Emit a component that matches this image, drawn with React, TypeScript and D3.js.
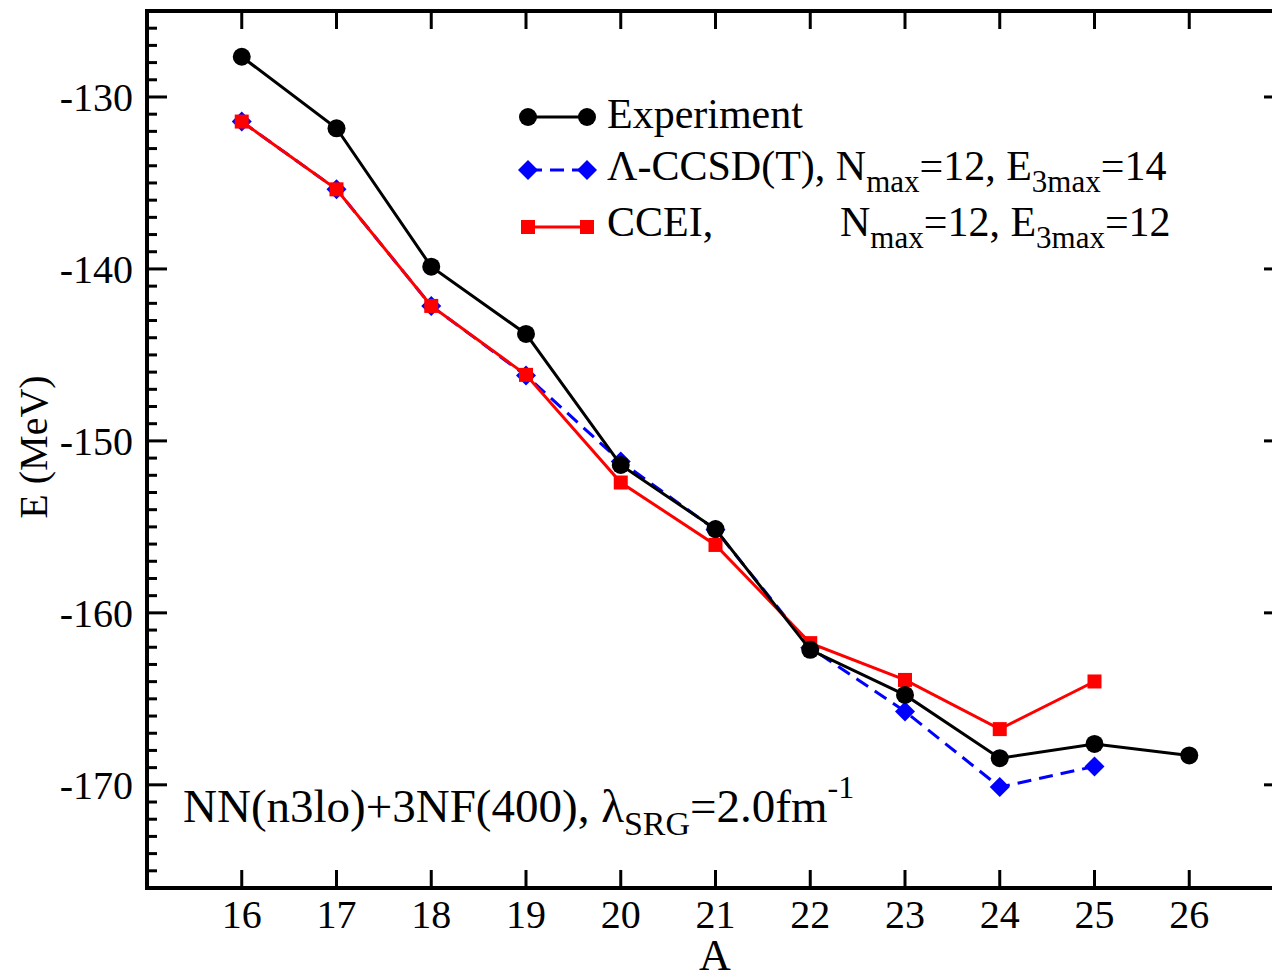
import React from "react";
import * as d3 from "d3";

const massNumbers = [16, 17, 18, 19, 20, 21, 22, 23, 24, 25, 26];
const experiment = [-127.66, -131.82, -139.87, -143.78, -151.4, -155.13, -162.15, -164.77, -168.45, -167.62, -168.29];
const ccsdT = [-131.43, -135.37, -142.15, -146.2, -151.2, -155.17, -162.03, -165.73, -170.13, -168.93];
const ccei = [-131.43, -135.37, -142.15, -146.16, -152.42, -156.05, -161.76, -163.9, -166.76, -163.99];
const yTickValues = [-170, -160, -150, -140, -130];
const xTickValues = [16, 17, 18, 19, 20, 21, 22, 23, 24, 25, 26];

const W = 1272;
const H = 976;
const FONT = "'Liberation Serif', 'Times New Roman', serif";

export default function App() {
  const x = d3.scaleLinear().domain([15, 27]).range([147, 1284]);
  const y = d3.scaleLinear().domain([-176, -125]).range([888, 11]);
  const [x0, x1] = x.range();
  const [y0, y1] = [y(-125), y(-176)];

  const pts = (vals: number[]) => vals.map((v, i) => [x(massNumbers[i]), y(v)] as [number, number]);
  const line = d3.line<[number, number]>();

  const minorY = d3.range(-176, -124, 1).filter((v) => v % 10 !== 0);
  const allX = d3.range(15, 28, 1);

  const diamond = (cx: number, cy: number, r: number) =>
    `M${cx},${cy - r}L${cx + r},${cy}L${cx},${cy + r}L${cx - r},${cy}Z`;

  const expPts = pts(experiment);
  const ccsdPts = pts(ccsdT);
  const cceiPts = pts(ccei);

  const legX0 = 528;
  const legX1 = 587;
  const legText = 607;

  return (
    <svg
      width={W}
      height={H}
      style={{ position: "absolute", left: 0, top: 0, background: "#fff" }}
      fontFamily={FONT}
    >
      {/* data series */}
      <path d={line(ccsdPts) || ""} fill="none" stroke="#0000ff" strokeWidth={3} strokeDasharray="14,8" />
      {ccsdPts.map(([cx, cy], i) => (
        <path key={`d${i}`} d={diamond(cx, cy, 10)} fill="#0000ff" />
      ))}
      <path d={line(cceiPts) || ""} fill="none" stroke="#ff0000" strokeWidth={3} />
      {cceiPts.map(([cx, cy], i) => (
        <rect key={`s${i}`} x={cx - 7} y={cy - 7} width={14} height={14} fill="#ff0000" />
      ))}
      <path d={line(expPts) || ""} fill="none" stroke="#000" strokeWidth={3} />
      {expPts.map(([cx, cy], i) => (
        <circle key={`c${i}`} cx={cx} cy={cy} r={9} fill="#000" />
      ))}

      {/* frame */}
      <g stroke="#000" strokeWidth={4} fill="none">
        <line x1={x0} x2={x0} y1={y0 - 2} y2={y1 + 2} />
        <line x1={x0 - 2} x2={x1 + 2} y1={y1} y2={y1} />
        <line x1={x0 - 2} x2={x1 + 2} y1={y0} y2={y0} />
        <line x1={x1} x2={x1} y1={y0 - 2} y2={y1 + 2} />
      </g>
      <g stroke="#000" strokeWidth={3}>
        {yTickValues.map((v) => (
          <g key={`my${v}`}>
            <line x1={x0} x2={x0 + 20} y1={y(v)} y2={y(v)} />
            <line x1={x1} x2={x1 - 20} y1={y(v)} y2={y(v)} />
          </g>
        ))}
        {minorY.map((v) => (
          <g key={`ny${v}`}>
            <line x1={x0} x2={x0 + 10} y1={y(v)} y2={y(v)} />
            <line x1={x1} x2={x1 - 10} y1={y(v)} y2={y(v)} />
          </g>
        ))}
        {allX.map((v) => (
          <g key={`tx${v}`}>
            <line x1={x(v)} x2={x(v)} y1={y0} y2={y0 + 18} />
            <line x1={x(v)} x2={x(v)} y1={y1} y2={y1 - 18} />
          </g>
        ))}
      </g>

      {/* tick labels */}
      {yTickValues.map((v) => (
        <text key={`ly${v}`} x={133} y={y(v) + 14} textAnchor="end" fontSize={40}>
          {v}
        </text>
      ))}
      {xTickValues.map((v) => (
        <text key={`lx${v}`} x={x(v)} y={928} textAnchor="middle" fontSize={40}>
          {v}
        </text>
      ))}

      {/* axis titles */}
      <text x={715} y={970} textAnchor="middle" fontSize={44}>
        A
      </text>
      <text transform={`translate(47,${447}) rotate(-90)`} textAnchor="middle" fontSize={40}>
        E (MeV)
      </text>

      {/* legend */}
      <line x1={legX0} x2={legX1} y1={117} y2={117} stroke="#000" strokeWidth={3} />
      <circle cx={legX0} cy={117} r={9} fill="#000" />
      <circle cx={legX1} cy={117} r={9} fill="#000" />
      <text x={legText} y={128} fontSize={42}>
        Experiment
      </text>

      <line x1={legX0} x2={legX1} y1={170} y2={170} stroke="#0000ff" strokeWidth={3} strokeDasharray="14,8" />
      <path d={diamond(legX0, 170, 10)} fill="#0000ff" />
      <path d={diamond(legX1, 170, 10)} fill="#0000ff" />
      <text x={legText} y={180} fontSize={42}>
        Λ-CCSD(T), N
        <tspan fontSize={31} dy={12}>max</tspan>
        <tspan dy={-12}>=12, E</tspan>
        <tspan fontSize={31} dy={12}>3max</tspan>
        <tspan dy={-12}>=14</tspan>
      </text>

      <line x1={legX0} x2={legX1} y1={227} y2={227} stroke="#ff0000" strokeWidth={3} />
      <rect x={legX0 - 7} y={220} width={14} height={14} fill="#ff0000" />
      <rect x={legX1 - 7} y={220} width={14} height={14} fill="#ff0000" />
      <text x={legText} y={236} fontSize={42}>
        CCEI,
      </text>
      <text x={840} y={236} fontSize={42}>
        N
        <tspan fontSize={31} dy={12}>max</tspan>
        <tspan dy={-12}>=12, E</tspan>
        <tspan fontSize={31} dy={12}>3max</tspan>
        <tspan dy={-12}>=12</tspan>
      </text>

      {/* model annotation */}
      <text x={183} y={822} fontSize={47}>
        NN(n3lo)+3NF(400), λ
        <tspan fontSize={34} dy={13}>SRG</tspan>
        <tspan dy={-13}>=2.0fm</tspan>
        <tspan fontSize={32} dy={-24}>-1</tspan>
      </text>
    </svg>
  );
}
